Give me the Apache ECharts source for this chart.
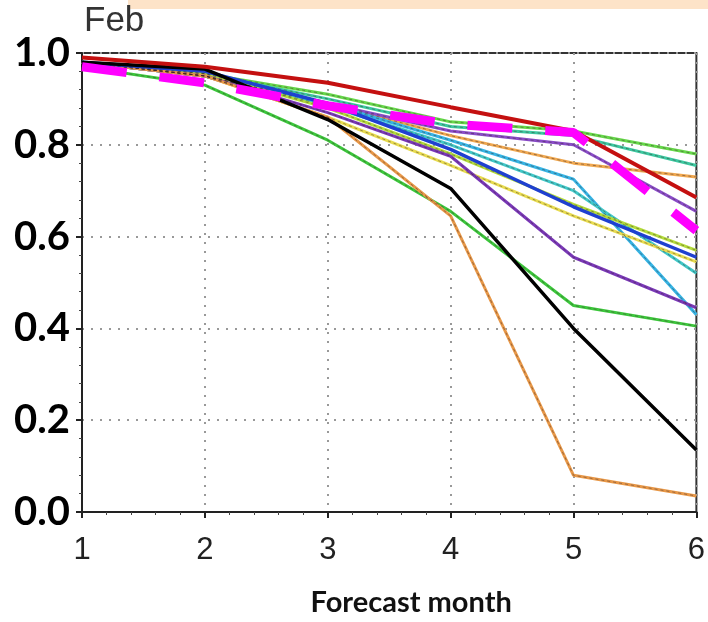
<!DOCTYPE html>
<html><head><meta charset="utf-8">
<script src="https://cdn.jsdelivr.net/npm/echarts@6/dist/echarts.min.js"></script>
<style>html,body{margin:0;padding:0;background:#fff}#c{width:708px;height:622px}</style>
</head><body><div id="c"></div>
<script>
// ---- data ----
const months = [1, 2, 3, 4, 5, 6];
const yTickLabels = ['0.0', '0.2', '0.4', '0.6', '0.8', '1.0'];
const panelTitle = 'Feb';
const xAxisTitle = 'Forecast month';

// thin members (coloured with dark dashed core)
const greenTop    = [0.98, 0.955, 0.91, 0.850, 0.830, 0.780];
const tealGreen   = [0.98, 0.955, 0.90, 0.840, 0.820, 0.755];
const orangeUpper = [0.98, 0.950, 0.89, 0.820, 0.760, 0.730];
const purpleUpper = [0.98, 0.950, 0.89, 0.830, 0.800, 0.655];
const cyanLine    = [0.98, 0.950, 0.89, 0.810, 0.725, 0.430];
const tealLine    = [0.98, 0.950, 0.885, 0.800, 0.700, 0.520];
const yellowGreen = [0.98, 0.955, 0.88, 0.780, 0.670, 0.570];
const yellowLine  = [0.98, 0.950, 0.86, 0.755, 0.645, 0.545];
const purpleLower = [0.98, 0.950, 0.87, 0.775, 0.555, 0.445];
const greenLower  = [0.97, 0.930, 0.81, 0.655, 0.450, 0.405];
const orangeLower = [0.98, 0.950, 0.86, 0.645, 0.080, 0.035];
// thick lines
const blueLine    = [0.98, 0.960, 0.89, 0.790, 0.665, 0.555];
const blackLine   = [0.98, 0.965, 0.855, 0.705, 0.400, 0.135];
const redLine     = [0.99, 0.970, 0.935, 0.882, 0.830, 0.685];
const magentaLine = [0.97, 0.935, 0.885, 0.845, 0.827, 0.613];

const thin = [
  ['greenTop', greenTop, '#66d84a'],
  ['tealGreen', tealGreen, '#3cc8a0'],
  ['orangeUpper', orangeUpper, '#f0a850'],
  ['purpleUpper', purpleUpper, '#8a4cc8'],
  ['cyanLine', cyanLine, '#36b4e4'],
  ['tealLine', tealLine, '#40c8c8'],
  ['yellowGreen', yellowGreen, '#b4dc3c'],
  ['yellowLine', yellowLine, '#e8dc50'],
  ['purpleLower', purpleLower, '#7a38b8'],
  ['greenLower', greenLower, '#3cc83c'],
  ['orangeLower', orangeLower, '#e89848']
];

const pts = arr => months.map((m, i) => [m, arr[i]]);
const series = [];
thin.forEach(([n, d, c]) => {
  series.push({ name: n, type: 'line', data: pts(d), symbol: 'none', silent: true,
    lineStyle: { color: c, width: 3 }, z: 2 });
  series.push({ name: n + '_core', type: 'line', data: pts(d), symbol: 'none', silent: true,
    lineStyle: { color: 'rgba(60,40,40,0.45)', width: 1, type: [3, 3] }, z: 3 });
});
series.push({ name: 'blue', type: 'line', data: pts(blueLine), symbol: 'none',
  lineStyle: { color: '#1f40d0', width: 3.5 }, z: 4 });
series.push({ name: 'black', type: 'line', data: pts(blackLine), symbol: 'none',
  lineStyle: { color: '#000000', width: 3.5 }, z: 5 });
series.push({ name: 'red', type: 'line', data: pts(redLine), symbol: 'none',
  lineStyle: { color: '#c41010', width: 4 }, z: 6 });
series.push({ name: 'magenta', type: 'line', data: pts(magentaLine), symbol: 'none',
  lineStyle: { color: '#ff00ff', width: 9, type: [45, 33], cap: 'butt' }, z: 7 });

const chart = echarts.init(document.getElementById('c'), null, { renderer: 'canvas' });
chart.setOption({
  animation: false,
  backgroundColor: '#ffffff',
  grid: { left: 82, right: 6, top: 53, bottom: 106, show: true,
    borderColor: '#333', borderWidth: 2, backgroundColor: 'transparent' },
  graphic: [
    { type: 'rect', left: 128, top: 0, shape: { width: 580, height: 9 },
      style: { fill: '#fde3c8' }, z: 10 },
    { type: 'text', left: 84, top: 4, style: { text: panelTitle,
      font: '35px "Liberation Sans", Arial, sans-serif', fill: '#333' }, z: 10 }
  ],
  xAxis: {
    type: 'value', min: 1, max: 6, interval: 1,
    name: xAxisTitle, nameLocation: 'middle', nameGap: 76,
    nameTextStyle: { fontFamily: 'Lato', fontWeight: 'bold', fontSize: 29, color: '#111', padding: [0, 0, 0, 44] },
    axisLine: { lineStyle: { color: '#222', width: 2 } },
    axisTick: { length: 6, lineStyle: { color: '#222', width: 2 } },
    minorTick: { show: true, splitNumber: 5, length: 3, lineStyle: { color: '#444' } },
    axisLabel: { fontFamily: '"Liberation Sans Narrow", "Liberation Sans", sans-serif',
      fontSize: 31, color: '#222', margin: 23 },
    splitLine: { show: true, lineStyle: { color: '#999', width: 2, type: [2, 7] } }
  },
  yAxis: {
    type: 'value', min: 0, max: 1, interval: 0.2,
    axisLine: { show: true, lineStyle: { color: '#222', width: 2 } },
    axisTick: { show: true, length: 6, lineStyle: { color: '#222', width: 2 } },
    minorTick: { show: true, splitNumber: 5, length: 3, lineStyle: { color: '#444' } },
    axisLabel: { fontFamily: 'Lato', fontWeight: 'bold', fontSize: 40, color: '#000', margin: 12,
      formatter: v => yTickLabels[Math.round(v / 0.2)] },
    splitLine: { show: true, lineStyle: { color: '#999', width: 2, type: [2, 7] } }
  },
  series: series
});
</script>
</body></html>
